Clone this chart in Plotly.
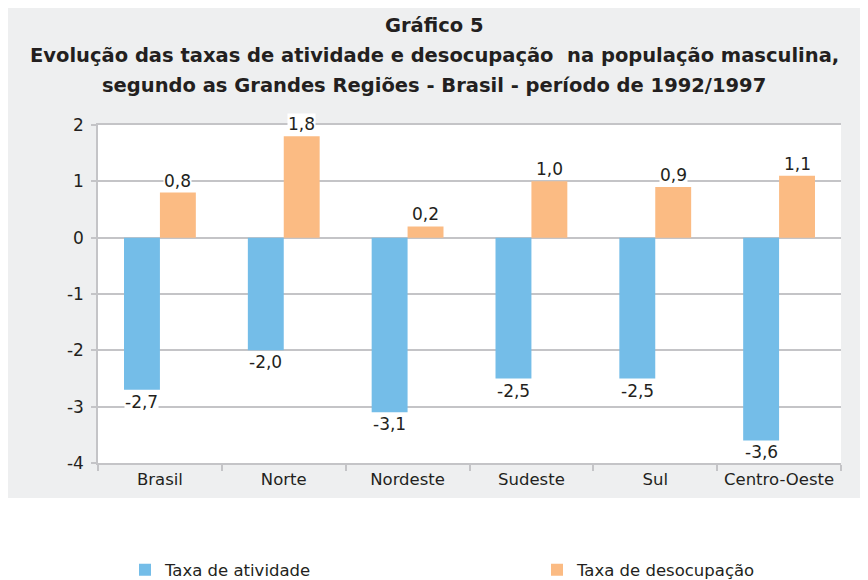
import plotly.graph_objects as go

regioes = ["Brasil", "Norte", "Nordeste", "Sudeste", "Sul", "Centro-Oeste"]
taxa_atividade = [-2.7, -2.0, -3.1, -2.5, -2.5, -3.6]
taxa_desocupacao = [0.8, 1.8, 0.2, 1.0, 0.9, 1.1]
y_ticks = [2, 1, 0, -1, -2, -3, -4]
y_ticktext = ["2", "1", "0", "-1", "-2", "-3", "-4"]
titulo = [
    "Gráfico 5",
    "Evolução das taxas de atividade e desocupação  na população masculina,",
    "segundo as Grandes Regiões - Brasil - período de 1992/1997",
]

BLUE = "#74BDE8"
ORANGE = "#FBBB83"
GRID = "#C4C4C7"
TXT = "#231F20"
FONT = "DejaVu Sans, Liberation Sans, sans-serif"

# the page body adds an 8px offset, so figure coordinates are shifted by -8
OFF = 8
PLOT_TOP, PLOT_BOTTOM, PLOT_LEFT, PLOT_RIGHT = 125 - OFF, 463 - OFF, 98 - OFF, 841 - OFF
PH = PLOT_BOTTOM - PLOT_TOP
PW = PLOT_RIGHT - PLOT_LEFT
Y_MIN, Y_MAX = -4, 2


def fmt(v):
    return f"{v:.1f}".replace(".", ",")


fig = go.Figure()
fig.add_trace(go.Bar(x=regioes, y=taxa_atividade, name="Taxa de atividade",
                     marker=dict(color=BLUE, line=dict(width=0)), legend="legend"))
fig.add_trace(go.Bar(x=regioes, y=taxa_desocupacao, name="Taxa de desocupação",
                     marker=dict(color=ORANGE, line=dict(width=0)), legend="legend2"))

annotations = []
for r, v in zip(regioes, taxa_atividade):
    annotations.append(dict(x=r, y=v, xref="x", yref="y", text=fmt(v), showarrow=False,
                            xshift=-18, yanchor="top", yshift=-1, bgcolor="white",
                            borderpad=0, font=dict(size=17, color=TXT, family=FONT)))
for r, v in zip(regioes, taxa_desocupacao):
    annotations.append(dict(x=r, y=v, xref="x", yref="y", text=fmt(v), showarrow=False,
                            xshift=18, yanchor="bottom", yshift=1, bgcolor="white",
                            borderpad=0, font=dict(size=17, color=TXT, family=FONT)))

title_px = [26 - OFF, 56 - OFF, 86 - OFF]
for t, py in zip(titulo, title_px):
    annotations.append(dict(x=(434 - OFF - PLOT_LEFT) / PW, xref="paper",
                            y=(PLOT_BOTTOM - py) / PH, yref="paper", text=f"<b>{t}</b>",
                            showarrow=False, xanchor="center", yanchor="middle",
                            font=dict(size=19.5, color=TXT, family=FONT)))

shapes = [
    dict(type="rect", xref="paper", yref="paper", x0=-0.2, x1=1.1,
         y0=(PLOT_BOTTOM - (498 - OFF)) / PH, y1=1.5, fillcolor="#EEEFF0",
         line=dict(width=0), layer="below"),
    dict(type="rect", xref="x domain", yref="y domain", x0=0, x1=1, y0=0, y1=1,
         fillcolor="white", line=dict(width=0), layer="below"),
]

legend_style = dict(orientation="h", xanchor="left", yanchor="middle",
                    y=-(570 - OFF - PLOT_BOTTOM) / PH,
                    font=dict(size=16.5, color=TXT, family=FONT), bgcolor="rgba(0,0,0,0)")

fig.update_layout(
    width=868, height=580,
    margin=dict(l=PLOT_LEFT, r=868 - PLOT_RIGHT, t=PLOT_TOP, b=580 - PLOT_BOTTOM,
                autoexpand=False),
    paper_bgcolor="white", plot_bgcolor="white",
    barmode="group", bargap=0.42, bargroupgap=0,
    font=dict(family=FONT, color=TXT, size=16),
    showlegend=True,
    legend=dict(x=(125 - OFF - PLOT_LEFT) / PW, **legend_style),
    legend2=dict(x=(537 - OFF - PLOT_LEFT) / PW, **legend_style),
    annotations=annotations,
    shapes=shapes,
    # secondary axis used only to draw the category-boundary ticks on the zero line
    xaxis2=dict(overlaying="x", anchor="free", position=(0 - Y_MIN) / (Y_MAX - Y_MIN),
                range=[-0.5, len(regioes) - 0.5], tickmode="array",
                tickvals=[i + 0.5 for i in range(len(regioes) - 1)],
                showticklabels=False, ticks="outside", ticklen=6, tickwidth=1.5,
                tickcolor=GRID, showline=False, showgrid=False, zeroline=False,
                automargin=False, fixedrange=True),
)
fig.update_yaxes(range=[Y_MIN, Y_MAX], tickvals=y_ticks, ticktext=y_ticktext, automargin=False,
                 showgrid=True, gridcolor=GRID, gridwidth=1.5,
                 zeroline=True, zerolinecolor=GRID, zerolinewidth=1.5,
                 showline=True, linecolor=GRID, linewidth=1.5,
                 ticks="outside", ticklen=5, tickcolor=GRID, tickwidth=1.5,
                 tickfont=dict(size=17, color=TXT), ticklabelstandoff=4)
fig.update_xaxes(selector=dict(anchor="y"), showline=True, linecolor=GRID, linewidth=1.5,
                 mirror=True, automargin=False,
                 ticks="outside", tickson="boundaries", ticklen=6, tickcolor=GRID, tickwidth=1.5,
                 tickfont=dict(size=16.5, color=TXT))
fig.layout.xaxis.update(showline=True, linecolor=GRID, linewidth=1.5, mirror=True,
                        automargin=False, ticks="outside", tickson="boundaries", ticklen=6,
                        tickcolor=GRID, tickwidth=1.5, tickfont=dict(size=16.5, color=TXT))

fig.write_html("out.html")
